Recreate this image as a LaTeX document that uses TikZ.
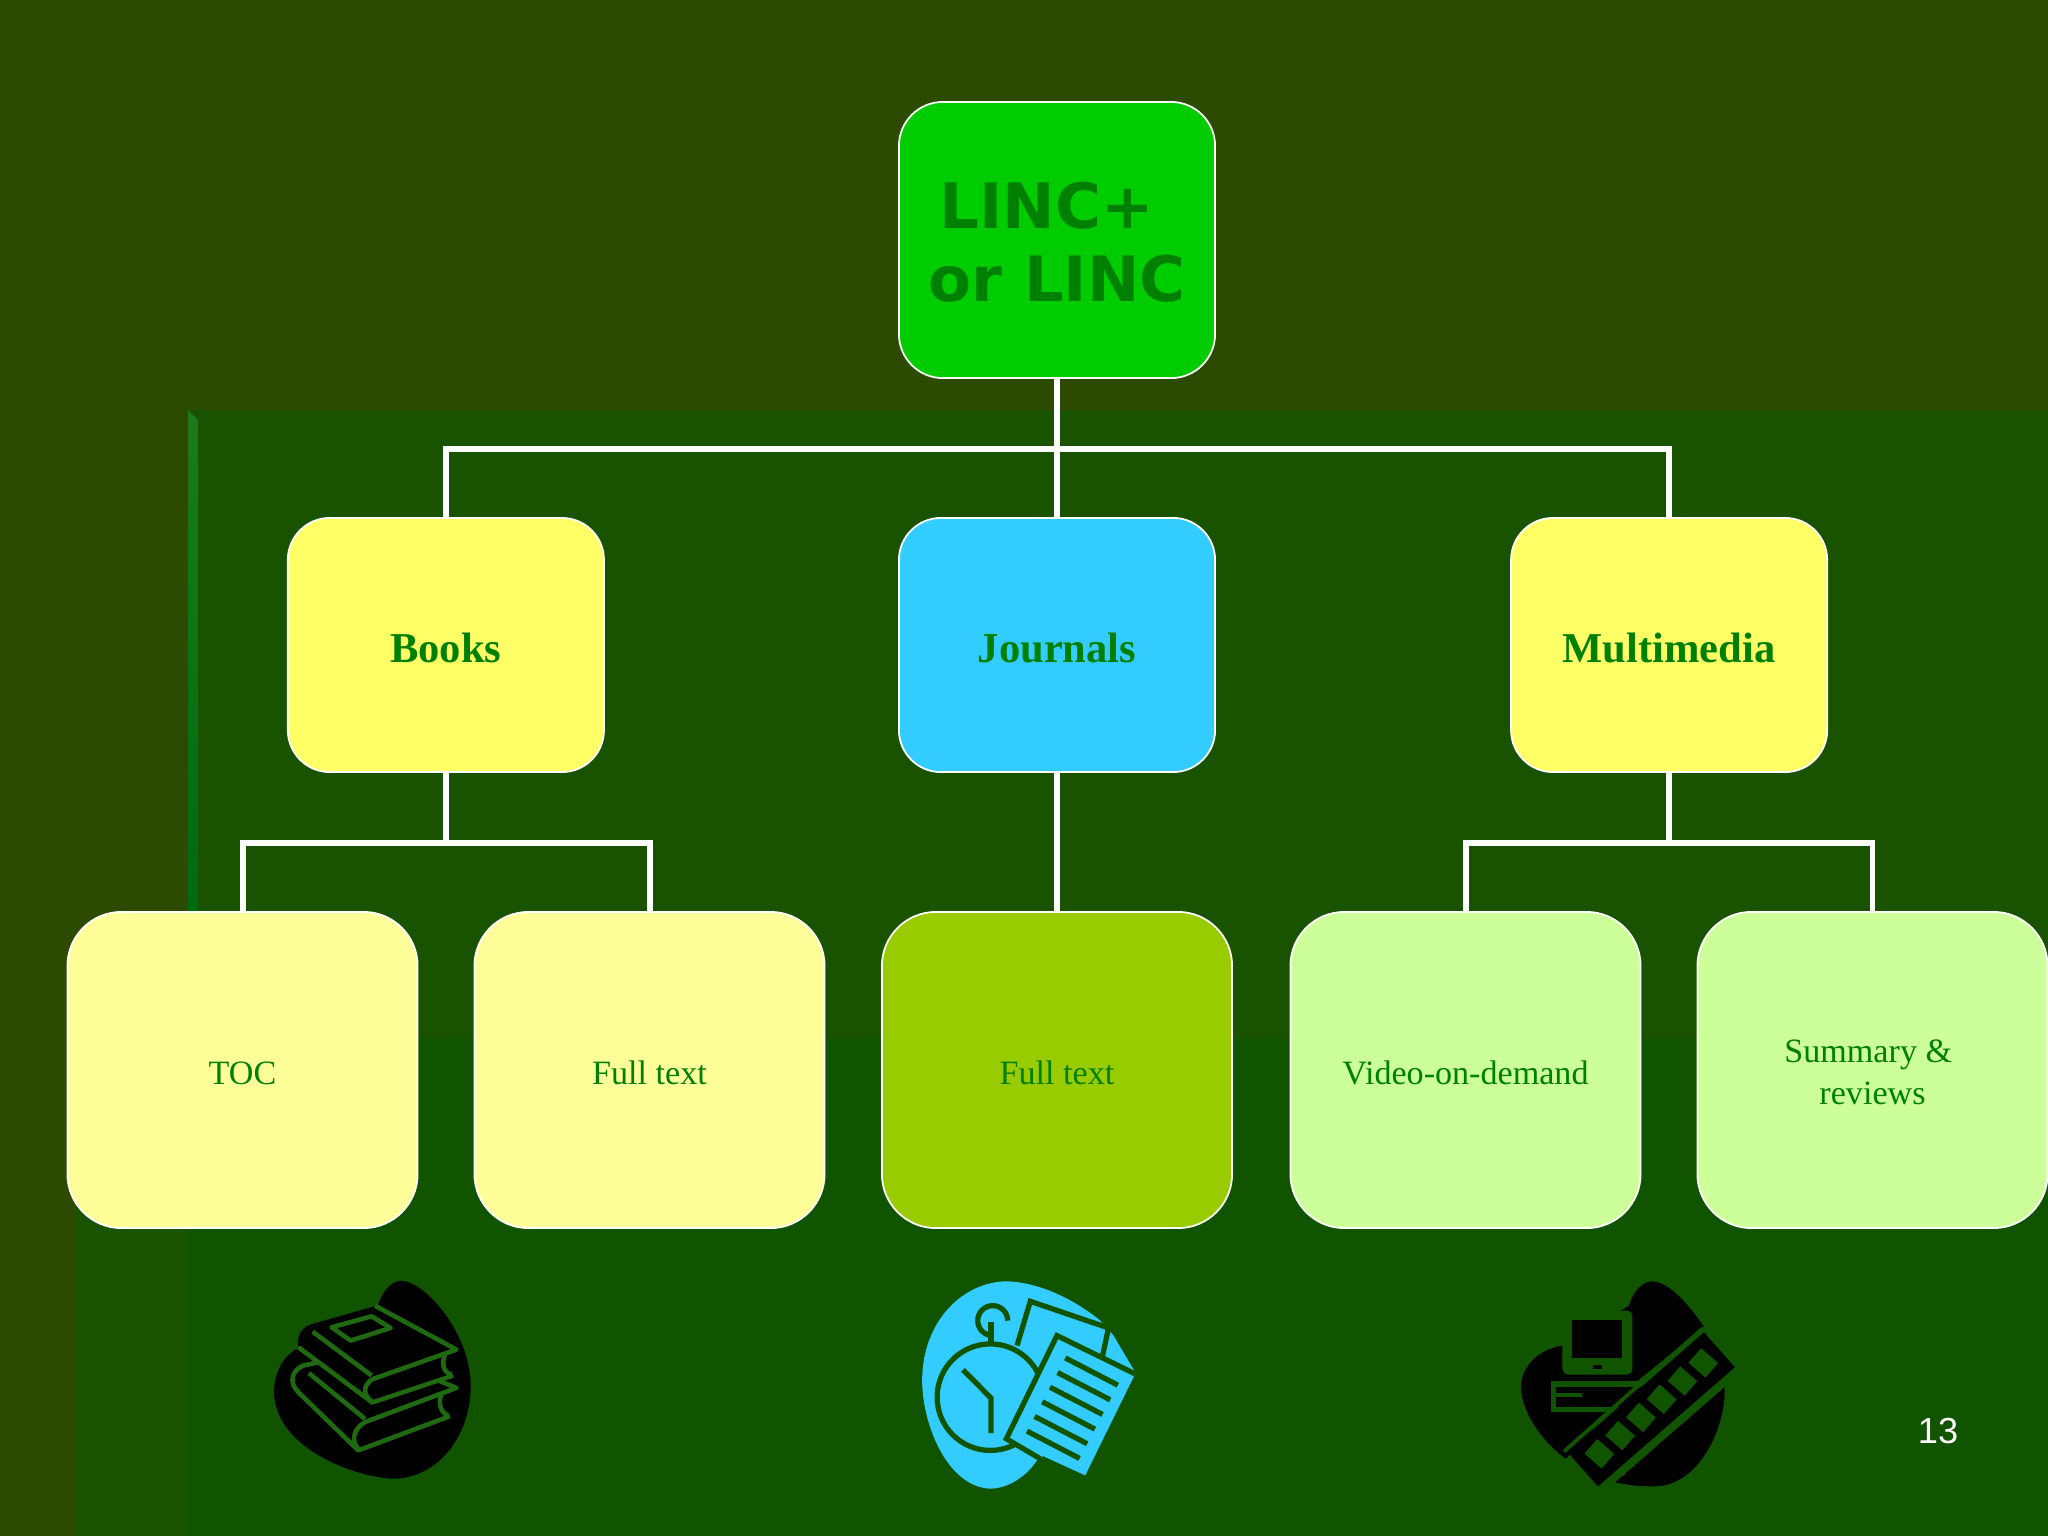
\documentclass[tikz,border=0pt]{standalone}
\usepackage{fontspec}
\usepackage{tikz}
\usetikzlibrary{positioning, calc}
\setmainfont{Liberation Serif}
\newfontfamily\lincfont{DejaVu Sans}
\newfontfamily\pagefont{Liberation Sans}
\definecolor{slidebg}{HTML}{2C4A00}
\definecolor{panelbg}{HTML}{1A5300}
\definecolor{panellow}{HTML}{115400}
\definecolor{edgetop}{HTML}{1C7A1C}
\definecolor{edgelow}{HTML}{006A10}
\definecolor{inktext}{HTML}{008000}
\definecolor{iconline}{HTML}{1F6A10}
\definecolor{iconblue}{HTML}{33CCFF}
\definecolor{rootfill}{HTML}{00CC00}
\definecolor{bookfill}{HTML}{FFFF66}
\definecolor{leaffill}{HTML}{FFFF99}
\definecolor{olivefill}{HTML}{99CC00}
\definecolor{mintfill}{HTML}{CCFF99}

\begin{document}
\begin{tikzpicture}[x=0.01cm, y=0.01cm,
    topic/.style={rectangle,
      draw=white,
      line width=0.5pt,
      rounded corners=0.42cm,
      minimum width=3.16cm,
      minimum height=2.54cm,
      inner sep=0pt,
      align=center,
      text height=0.34cm,
      text depth=0cm,
      text=inktext,
      font=\fontsize{12.1}{14}\selectfont\bfseries},
    leaf/.style={rectangle,
      draw=white,
      line width=0.5pt,
      rounded corners=0.54cm,
      minimum width=3.5cm,
      minimum height=3.16cm,
      inner sep=0pt,
      align=center,
      text height=0.29cm,
      text depth=0cm,
      text=inktext,
      font=\fontsize{9.7}{12}\selectfont},
    link/.style={draw=white, line width=1.7pt},
    icon/.style={x=0.00333cm, y=-0.00333cm, shift={#1}},
    glyph/.style={draw=iconline, line width=1.3pt, line join=round},
    stroke/.style={draw=panellow, line width=1.5pt}]

  \useasboundingbox (0,0) rectangle (2048,-1536);

  % BACKGROUND

  \fill[slidebg] (0,0) rectangle (2048,-1536);
  \fill[panelbg] (75,-1100) rectangle (2048,-1536);
  \fill[panelbg] (188,-410) rectangle (2048,-1536);
  \fill[panellow] (188,-1038) rectangle (2048,-1536);
  \shade[top color=edgetop, bottom color=edgelow] (188,-410) -- (198,-420) -- (198,-911) -- (188,-911) -- cycle;

  % BOXES

  \node [topic, rounded corners=0.44cm, fill=rootfill,
    minimum height=2.76cm,
    text height=1.22cm,
    font=\fontsize{17.8}{20.5}\selectfont\lincfont\bfseries] (linc) at (1057,-240) {%
    LINC+\hspace*{0.21cm}\\or LINC};

  \node [topic, fill=iconblue, below=1.38cm of linc] (journals) {Journals};
  \node [topic, fill=bookfill, left=2.93cm of journals] (books) {Books};
  \node [topic, fill=bookfill, right=2.94cm of journals] (multimedia) {Multimedia};

  \node [leaf, fill=olivefill, below=1.38cm of journals] (jfull) {Full text};
  \node [leaf, fill=leaffill, left=0.555cm of jfull] (bfull) {Full text};
  \node [leaf, fill=leaffill, left=0.55cm of bfull] (toc) {TOC};
  \node [leaf, fill=mintfill, right=0.565cm of jfull] (video) {Video-on-demand};
  \node [leaf, fill=mintfill, right=0.55cm of video, text height=0.69cm] (summary) {Summary \&\hspace*{0.085cm}\\reviews};

  % LINKS

  \draw[link] (linc.south) -- (journals.north);
  \draw[link] (linc.south) -- ++(0,-70) -| (books.north);
  \draw[link] (linc.south) -- ++(0,-70) -| (multimedia.north);
  \draw[link] (journals.south) -- (jfull.north);
  \draw[link] (books.south) -- ++(0,-70) -| (toc.north);
  \draw[link] (books.south) -- ++(0,-70) -| (bfull.north);
  \draw[link] (multimedia.south) -- ++(0,-70) -| (video.north);
  \draw[link] (multimedia.south) -- ++(0,-70) -| (summary.north);

  \node [text=white, font=\fontsize{10.3}{12}\selectfont\pagefont] (pagenum) at (1938,-1431) {13};

  % BOOKS ICON

  \begin{scope}[icon={(2.30cm,-12.50cm)}]
    \fill[black] (445,160) .. controls (465,110) and (490,90) .. (515,90)
      .. controls (590,95) and (720,250) .. (723,400)
      .. controls (725,560) and (620,685) .. (490,685)
      .. controls (370,680) and (130,590) .. (132,420)
      .. controls (135,350) and (170,310) .. (205,292)
      .. controls (200,260) and (210,235) .. (240,222) -- (430,168) -- cycle;
    \draw[glyph] (435,165) -- (680,297) -- (430,385) .. controls (400,400) and (395,435) .. (430,455) -- (670,375);
    \draw[glyph] (248,243) -- (425,375);
    \draw[glyph] (205,290) -- (430,458);
    \draw[glyph] (305,230) -- (425,197) -- (482,232) -- (362,270) -- cycle;
    \draw[glyph] (645,312) .. controls (635,340) and (640,365) .. (665,372);
    \draw[glyph] (265,335) -- (220,345) .. controls (185,360) and (175,395) .. (205,425) -- (385,600) -- (660,497);
    \draw[glyph] (237,368) -- (405,505);
    \draw[glyph] (630,392) -- (680,412) -- (405,515) .. controls (370,535) and (360,575) .. (390,600);
    \draw[glyph] (635,430) .. controls (625,455) and (630,485) .. (655,495);
  \end{scope}

  % CLOCK ICON

  \begin{scope}[icon={(9.00cm,-12.50cm)}]
    \fill[iconblue] (600,210) -- (640,255) -- (705,365) -- (600,500) -- (410,630)
      .. controls (370,690) and (310,715) .. (270,715)
      .. controls (140,710) and (65,520) .. (65,390)
      .. controls (65,210) and (190,92) .. (320,92)
      .. controls (430,95) and (540,160) .. (600,210) -- cycle;
    \draw[stroke] (350,285) -- (390,152) -- (625,232) -- (605,325);
    \draw[stroke] (270,440) circle [radius=160];
    \draw[stroke] (188,358) -- (272,443) -- (272,548);
    \draw[stroke] (272,215) -- (272,280);
    \draw[stroke] (322,210) arc [start angle=0, end angle=-270, radius=45];
    \fill[iconblue] (470,250) -- (705,370) -- (555,675) -- (315,565) -- cycle;
    \draw[stroke] (705,370) -- (470,255) -- (318,565) -- (420,625);
    \foreach \dy in {0,...,5} {
      \draw[stroke] ($(495,322)+(-23*\dy,44*\dy)$) -- ++(158,82);
    }
  \end{scope}

  % MULTIMEDIA ICON

  \begin{scope}[icon={(15.00cm,-12.50cm)}]
    \fill[black] (385,165) .. controls (400,115) and (430,92) .. (455,92)
      .. controls (510,95) and (570,170) .. (610,228)
      -- (400,400) -- (195,625)
      .. controls (120,570) and (60,480) .. (60,405)
      .. controls (65,340) and (120,295) .. (185,285) -- cycle;
    \fill[black] (340,695) -- (672,405)
      .. controls (680,520) and (600,708) .. (460,708)
      .. controls (420,708) and (380,705) .. (340,695) -- cycle;
    \fill[panellow, rounded corners=1.5pt] (185,180) rectangle (395,372);
    \fill[black] (213,208) rectangle (365,323);
    \fill[black] (276,342) rectangle (305,355);
    \fill[panellow] (150,392) rectangle (440,485);
    \fill[black] (165,408) rectangle (440,470);
    \fill[panellow] (165,427) rectangle (245,440);
    \draw[panellow, line width=1.1pt] (190,603) -- (608,232);
    \fill[black] (200,605) -- (610,245) -- (703,350) -- (292,708) -- cycle;
    \foreach \i in {0,...,5} {
      \fill[panellow, shift={($(296,610)+(62.4*\i,-54.6*\i)$)}, rotate=-41] (-34,-29) rectangle (34,29);
    }
    \draw[panellow, line width=0.9pt] (340,692) -- (672,403);
    \foreach \tx/\ty in {660/420, 625/450, 592/480, 560/508, 462/592, 430/620, 400/648, 370/675} {
      \draw[panellow, line width=0.9pt] (\tx,\ty) -- ++(-12,-14);
    }
  \end{scope}

\end{tikzpicture}
\end{document}
